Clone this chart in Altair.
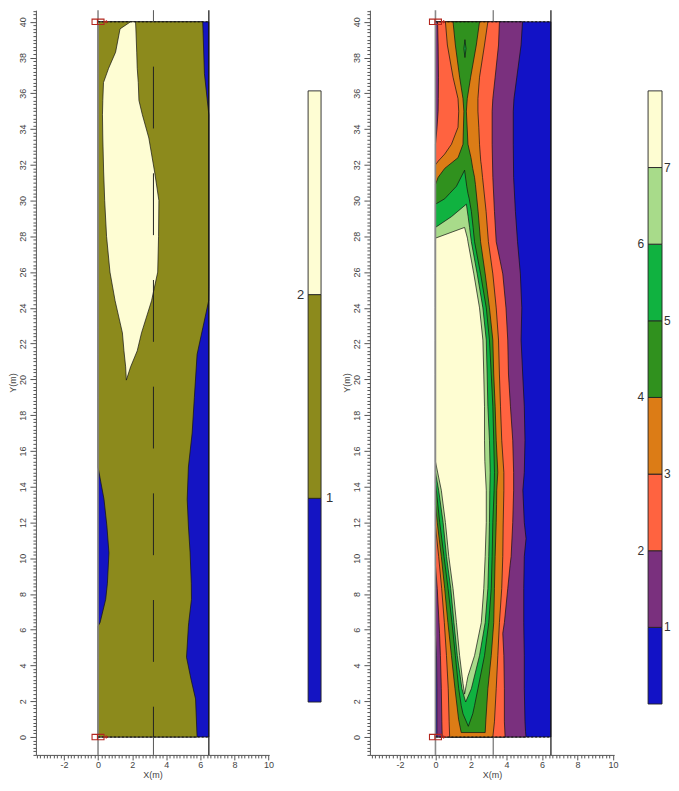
import altair as alt
import numpy as np
import pandas as pd

FONT = "Liberation Sans"
TXT = "#444444"

# ------------------------------------------------------------------ data
SECTION_X = [0.0, 6.5]
SECTION_Y = [0.0, 40.0]
MID_X = 3.25
MARKER_Y = [0.0, 40.0]

LEFT_COLORS = ["#1414C3", "#8C8A1C", "#FEFDD3"]
LEFT_BAR_LABELS = ["1", "2"]

L1_Y = [0.0, 2.13, 3.25, 4.46, 6.2, 6.4, 7.7, 8.6, 10.3, 11.8, 13.3, 15.1, 17.0, 19.0, 21.4, 22.9, 24.4, 25.2, 34.8, 37.1, 40.0]
L1_XL = [0.0, 0.0, 0.0, 0.0, 0.0, 0.12, 0.45, 0.55, 0.64, 0.52, 0.35, 0.0, 0.0, 0.0, 0.0, 0.0, 0.0, 0.0, 0.0, 0.0, 0.0]
L1_XR = [5.81, 5.72, 5.45, 5.19, 5.3, 5.32, 5.48, 5.47, 5.4, 5.3, 5.23, 5.3, 5.52, 5.65, 5.81, 6.15, 6.49, 6.5, 6.5, 6.24, 6.14]

L2_Y = [19.96, 20.7, 21.6, 22.6, 24.4, 26.0, 28.0, 30.0, 31.6, 33.5, 34.8, 35.6, 36.6, 37.4, 38.3, 39.6, 40.0]
L2_XL = [1.66, 1.62, 1.52, 1.43, 1.0, 0.7, 0.5, 0.39, 0.33, 0.28, 0.26, 0.28, 0.32, 0.62, 1.03, 1.29, 1.91]
L2_XR = [1.66, 1.91, 2.3, 2.55, 3.14, 3.5, 3.55, 3.57, 3.32, 2.98, 2.6, 2.4, 2.36, 2.3, 2.27, 2.22, 2.2]

RIGHT_COLORS = ["#1212C6", "#7A307E", "#FF6340", "#DC7C16", "#30911E", "#10B240", "#A8DB8A", "#FEFDD2"]
RIGHT_BAR_LABELS = ["1", "2", "3", "4", "5", "6", "7"]

R1_Y = [0, 0.3, 0.85, 2.7, 4.55, 5.7, 6.4, 8.3, 10.1, 11.1, 12, 13.8, 14.8, 16.6, 18.5, 20.3, 22.2, 24, 25.9, 27.7, 29.4, 31.3, 33.15, 35, 35.7, 36.9, 38.7, 40]
R1_XL = [0.08, 0.08, 0.08, 0.08, 0.06] + [0.0] * 23
R1_XR = [5.1, 5.07, 5.04, 5.0, 5.0, 4.98, 4.97, 4.97, 5.0, 5.1, 5.0, 4.92, 5.0, 5.04, 5.0, 4.91, 4.82, 4.86, 4.78, 4.62, 4.5, 4.4, 4.38, 4.38, 4.42, 4.58, 4.82, 4.9]

R2_Y = [0, 0.85, 2.7, 4.55, 5.8, 6.4, 8.3, 9.6, 10.1, 12, 13.8, 14.8, 16.6, 18.5, 20.3, 22.2, 24, 25.9, 27.7, 29.4, 31.3, 33.15, 34, 35, 35.7, 36.9, 38.7, 40]
R2_XL = [0.38, 0.36, 0.33, 0.28, 0.23, 0.2, 0.1, 0.0] + [0.0] * 14 + [0.08, 0.15, 0.16, 0.17, 0.15, 0.12]
R2_XR = [3.92, 3.88, 3.88, 3.85, 3.79, 3.88, 4.07, 4.2, 4.26, 4.35, 4.4, 4.4, 4.35, 4.22, 4.11, 4.07, 3.97, 3.79, 3.42, 3.32, 3.23, 3.19, 3.19, 3.19, 3.23, 3.36, 3.55, 3.6]

R3_Y = [0, 0.85, 2.7, 4.55, 6.4, 8.3, 10.1, 11.8, 13.8, 14.8, 16.6, 18.5, 20.3, 22.2, 24, 25.9, 27.7, 29.4, 31.3, 32.0, 32.2, 32.6, 33.15, 34.1, 35, 35.7, 36.9, 38.7, 40]
R3_XL = [0.8, 0.77, 0.72, 0.62, 0.5, 0.35, 0.18] + [0.0] * 13 + [0.15, 0.52, 0.9, 1.27, 1.31, 1.27, 0.99, 0.67, 0.56]
R3_XR = [3.23, 3.32, 3.42, 3.51, 3.6, 3.73, 3.79, 3.81, 3.85, 3.85, 3.73, 3.66, 3.6, 3.55, 3.42, 3.23, 2.98, 2.85, 2.65, 2.58, 2.55, 2.52, 2.48, 2.44, 2.39, 2.39, 2.48, 2.76, 2.95]

R4_Y = [0.25, 1.0, 2.7, 4.55, 6.4, 8.3, 10.1, 12, 13.0, 13.8, 14.8, 16.6, 18.5, 20.3, 22.2, 24, 25.9, 27.7, 29.4, 30.9, 31.3, 31.8, 32.4, 33.15, 35, 35.7, 36.9, 38.7, 40]
R4_XL = [1.45, 1.3, 1.1, 0.9, 0.7, 0.52, 0.33, 0.1] + [0.0] * 12 + [0.15, 0.52, 1.27, 1.55, 1.6, 1.55, 1.36, 1.12, 0.99]
R4_XR = [2.8, 2.84, 2.95, 3.14, 3.28, 3.32, 3.36, 3.42, 3.44, 3.45, 3.51, 3.42, 3.36, 3.28, 3.23, 3.04, 2.8, 2.54, 2.4, 2.25, 2.2, 2.1, 2.0, 1.83, 1.74, 1.79, 1.98, 2.3, 2.48]

R5_Y = [0.6, 1.3, 1.76, 2.7, 4.55, 6.4, 8.3, 10.1, 12, 13.8, 14.2, 14.8, 16.6, 18.5, 20.3, 22.2, 24, 25.9, 27.7, 28.5, 29.4, 29.8, 30.1, 30.4, 30.8, 31.7]
R5_XL = [1.85, 1.55, 1.45, 1.31, 1.12, 0.93, 0.71, 0.48, 0.24, 0.05] + [0.0] * 12 + [0.52, 0.8, 1.18, 1.64]
R5_XR = [1.85, 2.1, 2.2, 2.39, 2.76, 3.0, 3.14, 3.19, 3.23, 3.3, 3.31, 3.32, 3.28, 3.23, 3.14, 3.04, 2.86, 2.54, 2.2, 2.12, 2.02, 1.95, 1.9, 1.83, 1.76, 1.64]

R5B_Y = [38.0, 38.5, 39.0]
R5B_XL = [1.66, 1.6, 1.66]
R5B_XR = [1.66, 1.72, 1.66]

R6_Y = [1.96, 2.7, 4.55, 6.4, 8.3, 10.1, 12, 13.8, 14.8, 16.6, 18.5, 20.3, 22.2, 24, 25.9, 27.7, 28.5, 29.1, 29.8]
R6_XL = [1.7, 1.49, 1.23, 1.04, 0.86, 0.62, 0.43, 0.18] + [0.0] * 9 + [0.9, 1.74]
R6_XR = [1.7, 2.02, 2.48, 2.8, 2.95, 3.0, 3.04, 3.06, 3.08, 3.04, 2.95, 2.91, 2.86, 2.67, 2.35, 2.02, 1.92, 1.84, 1.74]

R7_Y = [2.4, 3.0, 3.4, 4.55, 6.4, 8.3, 10.1, 12, 13.8, 15.4, 16.6, 18.5, 20.3, 22.2, 24, 25.9, 27.7, 27.9, 28.5]
R7_XL = [1.64, 1.55, 1.5, 1.36, 1.18, 0.99, 0.75, 0.56, 0.33] + [0.0] * 9 + [1.64]
R7_XR = [1.64, 1.75, 1.83, 2.2, 2.58, 2.72, 2.8, 2.86, 2.86, 2.78, 2.76, 2.76, 2.72, 2.67, 2.48, 2.16, 1.83, 1.8, 1.64]

# ------------------------------------------------------------------ layout
PXM = 17.94                      # vertical px per metre
YDOM = [-1.0, 40.65]
HEIGHT = int(round((YDOM[1] - YDOM[0]) * PXM))
LEFT_XDOM = [-3.643, 10.04]
LEFT_W = 234
RIGHT_XDOM = [-3.69, 10.06]
RIGHT_W = 245

is2 = "abs(datum.value/2 - round(datum.value/2)) < 0.001"


def make_axes(xdom):
    xt = [round(v, 1) for v in np.arange(np.ceil(xdom[0] * 5) / 5, xdom[1] + 1e-6, 0.2)]
    yt = [round(v, 1) for v in np.arange(-1.0, 40.61, 0.2)]
    common = dict(grid=False, labelFont=FONT, titleFont=FONT, labelFontSize=9, titleFontSize=9,
                  titleFontWeight="normal", labelColor=TXT, titleColor=TXT, domainColor="#555555",
                  tickColor="#555555", domainWidth=1, tickWidth=1, labelOverlap=False, labelFlush=False)
    xax = alt.Axis(values=xt, title="X(m)",
                   labelExpr=f"({is2}) ? ('' + datum.value) : ''",
                   tickSize={"condition": {"test": is2, "value": 5}, "value": 3},
                   labelPadding=1, titlePadding=1, **common)
    yax = alt.Axis(values=yt, title="Y(m)",
                   labelExpr=f"({is2}) && datum.value >= 0 ? ('' + datum.value) : ''",
                   tickSize={"condition": {"test": is2, "value": 6}, "value": 3},
                   labelAngle=270, labelPadding=2, titlePadding=1, **common)
    return xax, yax


def panel(bands, xdom, width, dashed_mid):
    xs = alt.Scale(domain=xdom, nice=False, zero=False)
    ys = alt.Scale(domain=YDOM, nice=False, zero=False)
    xax, yax = make_axes(xdom)

    def X(f):
        return alt.X(f, type="quantitative", scale=xs, axis=xax)

    def Y(f):
        return alt.Y(f, type="quantitative", scale=ys, axis=yax)

    layers = []
    for (yy, xl, xr, col) in bands:
        d = pd.DataFrame({"y": yy, "xl": xl, "xr": xr})
        layers.append(
            alt.Chart(d).mark_area(orient="horizontal", interpolate="linear", fill=col,
                                   stroke="#111111", strokeWidth=0.7, strokeJoin="round")
            .encode(y=Y("y"), x=X("xl"), x2="xr")
        )

    full = pd.DataFrame({"x": [SECTION_X[0]], "y1": [YDOM[0]], "y2": [YDOM[1]]})
    layers.append(alt.Chart(full).mark_rule(color="#8A8A8A", strokeWidth=1.6)
                  .encode(x=X("x"), y=Y("y1"), y2="y2"))
    full_r = pd.DataFrame({"x": [SECTION_X[1]], "y1": [YDOM[0]], "y2": [YDOM[1]]})
    layers.append(alt.Chart(full_r).mark_rule(color="#111111", strokeWidth=1.2)
                  .encode(x=X("x"), y=Y("y1"), y2="y2"))
    mid_out = pd.DataFrame({"x": [MID_X, MID_X], "y1": [YDOM[0], SECTION_Y[1]], "y2": [SECTION_Y[0], YDOM[1]]})
    layers.append(alt.Chart(mid_out).mark_rule(color="#555555", strokeWidth=1)
                  .encode(x=X("x"), y=Y("y1"), y2="y2"))
    if dashed_mid:
        mid_in = pd.DataFrame({"x": [MID_X], "y1": [SECTION_Y[1]], "y2": [SECTION_Y[0]]})
        layers.append(alt.Chart(mid_in).mark_rule(color="#222222", strokeWidth=1,
                                                  strokeDash=[62, 45], strokeDashOffset=62)
                      .encode(x=X("x"), y=Y("y1"), y2="y2"))
    edge = pd.DataFrame({"y": SECTION_Y, "x1": [SECTION_X[0]] * 2, "x2": [SECTION_X[1]] * 2})
    layers.append(alt.Chart(edge).mark_rule(color="#111111", strokeWidth=1, strokeDash=[2, 2])
                  .encode(y=Y("y"), x=X("x1"), x2="x2"))
    mk = pd.DataFrame({"x": [SECTION_X[0]] * len(MARKER_Y), "y": MARKER_Y})
    shape = "M-1,-0.45L1,-0.45L1,0.45L-1,0.45Z M-0.1,-0.45L-0.1,0.45 M1,0L1.55,0 M1.3,-0.22L1.55,0L1.3,0.22"
    layers.append(alt.Chart(mk).mark_point(shape=shape, size=144, filled=False, stroke="#B3261E",
                                           strokeWidth=1.1, opacity=1)
                  .encode(x=X("x"), y=Y("y")))
    return alt.layer(*layers).properties(width=width, height=HEIGHT)


def colorbar(colors, labels, width, bar_left, bar_w, top_px, seg_px, label_dx, font_size):
    n = len(colors)
    d = pd.DataFrame({"lo": list(range(n)), "hi": list(range(1, n + 1)), "c": colors,
                      "x0": [0.0] * n, "x1": [1.0] * n})
    xdom = [-bar_left / bar_w, 1 + (width - bar_left - bar_w) / bar_w]
    ytop = n + top_px / seg_px
    ydom = [ytop - HEIGHT / seg_px, ytop]
    xs = alt.Scale(domain=xdom, nice=False, zero=False)
    ys = alt.Scale(domain=ydom, nice=False, zero=False)
    bar = alt.Chart(d).mark_rect(stroke="#222222", strokeWidth=0.9).encode(
        x=alt.X("x0:Q", scale=xs, axis=None), x2="x1:Q",
        y=alt.Y("lo:Q", scale=ys, axis=None), y2="hi:Q",
        fill=alt.Fill("c:N", scale=None))
    lab = pd.DataFrame({"v": list(range(1, len(labels) + 1)), "t": labels})
    lab["side"] = [1.0 if (i % 2 == 0) else 0.0 for i in range(len(labels))]
    right = alt.Chart(lab).transform_filter("datum.side == 1").mark_text(
        align="left", baseline="middle", dx=label_dx, font=FONT, fontSize=font_size,
        color="#333333").encode(
        x=alt.X("side:Q", scale=xs, axis=None), y=alt.Y("v:Q", scale=ys, axis=None), text="t:N")
    left = alt.Chart(lab).transform_filter("datum.side == 0").mark_text(
        align="right", baseline="middle", dx=-4, font=FONT, fontSize=font_size,
        color="#333333").encode(
        x=alt.X("side:Q", scale=xs, axis=None), y=alt.Y("v:Q", scale=ys, axis=None), text="t:N")
    return alt.layer(bar, right, left).properties(width=width, height=HEIGHT)


left_bands = [
    (SECTION_Y, [SECTION_X[0]] * 2, [SECTION_X[1]] * 2, LEFT_COLORS[0]),
    (L1_Y, L1_XL, L1_XR, LEFT_COLORS[1]),
    (L2_Y, L2_XL, L2_XR, LEFT_COLORS[2]),
]
right_bands = [
    (SECTION_Y, [SECTION_X[0]] * 2, [SECTION_X[1]] * 2, RIGHT_COLORS[0]),
    (R1_Y, R1_XL, R1_XR, RIGHT_COLORS[1]),
    (R2_Y, R2_XL, R2_XR, RIGHT_COLORS[2]),
    (R3_Y, R3_XL, R3_XR, RIGHT_COLORS[3]),
    (R4_Y, R4_XL, R4_XR, RIGHT_COLORS[4]),
    (R5_Y, R5_XL, R5_XR, RIGHT_COLORS[5]),
    (R5B_Y, R5B_XL, R5B_XR, RIGHT_COLORS[5]),
    (R6_Y, R6_XL, R6_XR, RIGHT_COLORS[6]),
    (R7_Y, R7_XL, R7_XR, RIGHT_COLORS[7]),
]

left_panel = panel(left_bands, LEFT_XDOM, LEFT_W, True)
right_panel = panel(right_bands, RIGHT_XDOM, RIGHT_W, False)

top_px = (YDOM[1] - 40.0) * PXM + (90 - 20.7)   # bar top sits 69 px below the y=40 line
cb1 = colorbar(LEFT_COLORS, LEFT_BAR_LABELS, 101, 39, 13, top_px, 613 / 3, 5, 13)
cb2 = colorbar(RIGHT_COLORS, RIGHT_BAR_LABELS, 56, 34, 14, top_px, 615 / 8, 2, 12)

chart = alt.hconcat(left_panel, cb1, right_panel, cb2, spacing=0, bounds="flush").configure_view(
    stroke=None).properties(padding=0, background="white")

chart.save("out.html", embed_options={"renderer": "svg", "actions": False})
